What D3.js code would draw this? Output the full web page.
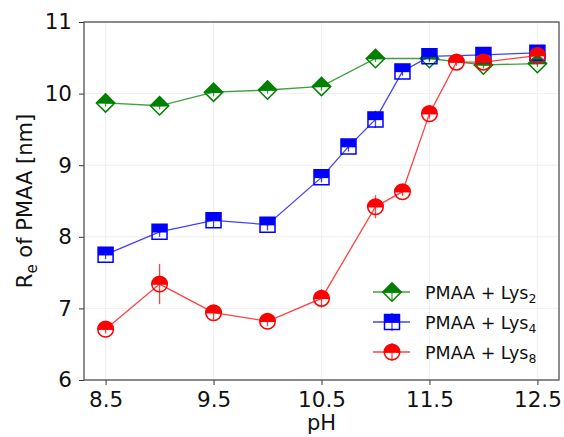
<!DOCTYPE html>
<html>
<head>
<meta charset="utf-8">
<script src="https://cdn.jsdelivr.net/npm/d3@7"></script>
<style>
  html, body { margin: 0; padding: 0; background: #fff; }
  svg { display: block; font-family: "DejaVu Sans", sans-serif; }
</style>
</head>
<body>
<svg id="chart" width="564" height="437"></svg>
<script>
// Radius of PMAA versus pH for three lysine oligomer lengths
const phLys2 = [8.5, 9, 9.5, 10, 10.5, 11, 11.5, 12, 12.5];
const reLys2 = [9.87, 9.83, 10.02, 10.05, 10.10, 10.49, 10.49, 10.40, 10.42];
const errLys2 = [0.05, 0.05, 0.06, 0.05, 0.06, 0.05, 0.05, 0.05, 0.05];

const phLys4 = [8.5, 9, 9.5, 10, 10.5, 10.75, 11, 11.25, 11.5, 12, 12.5];
const reLys4 = [7.75, 8.07, 8.23, 8.17, 8.83, 9.26, 9.64, 10.31, 10.52, 10.54, 10.57];
const errLys4 = [0.06, 0.07, 0.1, 0.08, 0.07, 0.07, 0.12, 0.06, 0.06, 0.05, 0.05];

const phLys8 = [8.5, 9, 9.5, 10, 10.5, 11, 11.25, 11.5, 11.75, 12, 12.5];
const reLys8 = [6.71, 7.34, 6.94, 6.82, 7.14, 8.42, 8.63, 9.72, 10.44, 10.44, 10.53];
const errLys8 = [0.06, 0.28, 0.1, 0.07, 0.13, 0.16, 0.06, 0.07, 0.05, 0.05, 0.05];

const seriesNames = ["PMAA + Lys", "PMAA + Lys", "PMAA + Lys"];
const seriesSubs = ["2", "4", "8"];
const seriesColors = ["green", "blue", "red"];
const seriesShapes = ["diamond", "square", "circle"];

const xTicks = [8.5, 9.5, 10.5, 11.5, 12.5];
const yTicks = [6, 7, 8, 9, 10, 11];

const series = [
  { x: phLys2, y: reLys2, e: errLys2 },
  { x: phLys4, y: reLys4, e: errLys4 },
  { x: phLys8, y: reLys8, e: errLys8 }
].map((s, i) => ({
  ...s, name: seriesNames[i], sub: seriesSubs[i],
  color: seriesColors[i], shape: seriesShapes[i]
}));

const svg = d3.select("#chart");
const m = { left: 84, right: 559, top: 22, bottom: 380 };

const x = d3.scaleLinear().domain([8.3, 12.7]).range([m.left, m.right]);
const y = d3.scaleLinear().domain([6, 11]).range([m.bottom, m.top]);

// faint grid
const grid = svg.append("g").attr("stroke", "#ebebeb").attr("stroke-width", 0.8);
grid.selectAll(".gx").data(xTicks).join("line")
  .attr("x1", d => x(d)).attr("x2", d => x(d))
  .attr("y1", m.top).attr("y2", m.bottom);
grid.selectAll(".gy").data(yTicks).join("line")
  .attr("x1", m.left).attr("x2", m.right)
  .attr("y1", d => y(d)).attr("y2", d => y(d));

// axes
const xAxis = svg.append("g").attr("transform", `translate(0,${m.bottom})`)
  .call(d3.axisBottom(x).tickValues(xTicks).tickFormat(d3.format(".1f")).tickSize(5).tickPadding(4));
const yAxis = svg.append("g").attr("transform", `translate(${m.left},0)`)
  .call(d3.axisLeft(y).tickValues(yTicks).tickFormat(d3.format("d")).tickSize(5).tickPadding(7));
[xAxis, yAxis].forEach(a => {
  a.select(".domain").remove();
  a.selectAll("line").attr("stroke", "#333").attr("stroke-width", 1);
  a.selectAll("text").attr("font-size", 21.5).attr("fill", "#111")
    .attr("font-family", "DejaVu Sans, sans-serif");
});
xAxis.selectAll("text").attr("dy", "0.85em");

// frame
svg.append("rect")
  .attr("x", m.left).attr("y", m.top)
  .attr("width", m.right - m.left).attr("height", m.bottom - m.top)
  .attr("fill", "none").attr("stroke", "#444").attr("stroke-width", 1.2);

// axis labels
svg.append("text")
  .attr("x", (m.left + m.right) / 2).attr("y", 430)
  .attr("text-anchor", "middle").attr("font-size", 21).attr("fill", "#111")
  .text("pH");

const yl = svg.append("text")
  .attr("transform", `translate(32,${(m.top + m.bottom) / 2}) rotate(-90)`)
  .attr("text-anchor", "middle").attr("font-size", 21).attr("fill", "#111");
yl.append("tspan").text("R");
yl.append("tspan").attr("font-size", 15).attr("dy", 5).text("e");
yl.append("tspan").attr("dy", -5).text(" of PMAA [nm]");

// marker with filled top half and open bottom half
function drawMarker(g, shape, color) {
  const sw = 1.5;
  let top, outline, half;
  if (shape === "circle") {
    const r = 7.8;
    top = `M${-r},0 A${r},${r} 0 0 1 ${r},0 Z`;
    outline = `M${-r},0 A${r},${r} 0 1 1 ${r},0 A${r},${r} 0 1 1 ${-r},0 Z`;
    half = r;
  } else if (shape === "square") {
    const s = 7.5;
    top = `M${-s},${-s} H${s} V0 H${-s} Z`;
    outline = `M${-s},${-s} H${s} V${s} H${-s} Z`;
    half = s;
  } else {
    const d = 9.2;
    top = `M${-d},0 L0,${-d} L${d},0 Z`;
    outline = `M${-d},0 L0,${-d} L${d},0 L0,${d} Z`;
    half = d;
  }
  g.append("path").attr("d", top).attr("fill", color);
  g.append("path").attr("d", outline).attr("fill", "none")
    .attr("stroke", color).attr("stroke-width", sw).attr("stroke-linejoin", "miter");
  g.append("line").attr("x1", -half).attr("x2", half).attr("y1", 0).attr("y2", 0)
    .attr("stroke", color).attr("stroke-width", sw);
}

const line = d3.line().x(d => x(d[0])).y(d => y(d[1]));

series.forEach(s => {
  const pts = s.x.map((v, i) => [v, s.y[i], s.e[i]]);
  const g = svg.append("g");
  g.append("path").datum(pts).attr("d", line)
    .attr("fill", "none").attr("stroke", s.color).attr("stroke-width", 1.3)
    .attr("stroke-opacity", 0.75);
  g.selectAll(".err").data(pts).join("line")
    .attr("x1", d => x(d[0])).attr("x2", d => x(d[0]))
    .attr("y1", d => y(d[1] - d[2])).attr("y2", d => y(d[1] + d[2]))
    .attr("stroke", s.color).attr("stroke-width", 1.3).attr("stroke-opacity", 0.75);
  pts.forEach(d => {
    const mg = g.append("g").attr("transform", `translate(${x(d[0])},${y(d[1])})`);
    drawMarker(mg, s.shape, s.color);
  });
});

// legend
const legend = svg.append("g");
series.forEach((s, i) => {
  const ly = 292 + i * 30;
  const lg = legend.append("g").attr("transform", `translate(392,${ly})`);
  lg.append("line").attr("x1", -19).attr("x2", 18).attr("y1", 0).attr("y2", 0)
    .attr("stroke", s.color).attr("stroke-width", 1.3).attr("stroke-opacity", 0.75);
  lg.append("line").attr("x1", 0).attr("x2", 0).attr("y1", -9).attr("y2", 9)
    .attr("stroke", s.color).attr("stroke-width", 1.3).attr("stroke-opacity", 0.75);
  drawMarker(lg, s.shape, s.color);
  const t = legend.append("text").attr("x", 425).attr("y", ly + 6.5)
    .attr("font-size", 17.5).attr("fill", "#111");
  t.append("tspan").text(s.name);
  t.append("tspan").attr("font-size", 12.5).attr("dy", 4).text(s.sub);
});
</script>
</body>
</html>
